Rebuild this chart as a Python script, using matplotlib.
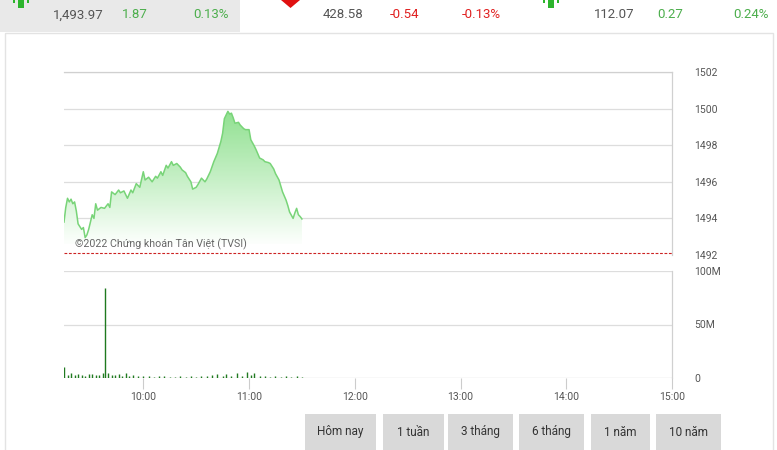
import numpy as np
import matplotlib
matplotlib.use('Agg')
import matplotlib.pyplot as plt
from matplotlib.patches import Rectangle, Polygon
from matplotlib.colors import LinearSegmentedColormap

plt.rcParams['font.family'] = ['Roboto', 'DejaVu Sans']

# Intraday index price (time, points)
price_times = ['09:15', '09:16', '09:17', '09:18', '09:19', '09:20', '09:21', '09:22', '09:23',
               '09:25', '09:26', '09:27', '09:28', '09:29', '09:31', '09:32', '09:33', '09:34',
               '09:36', '09:38', '09:40', '09:41', '09:42', '09:44', '09:46', '09:47', '09:49',
               '09:51', '09:53', '09:54', '09:56', '09:58', '10:00', '10:01', '10:03', '10:05',
               '10:07', '10:08', '10:10', '10:11', '10:13', '10:14', '10:16', '10:17', '10:19',
               '10:21', '10:22', '10:24', '10:25', '10:27', '10:28', '10:30', '10:31', '10:33',
               '10:35', '10:36', '10:38', '10:40', '10:42', '10:44', '10:45', '10:46', '10:48',
               '10:49', '10:50', '10:51', '10:52', '10:54', '10:55', '10:57', '10:58', '11:00',
               '11:01', '11:03', '11:04', '11:06', '11:08', '11:09', '11:11', '11:12', '11:14',
               '11:15', '11:17', '11:19', '11:21', '11:22', '11:23', '11:25', '11:26', '11:27',
               '11:28', '11:29', '11:30']
price_vals = [1493.8, 1494.6, 1495.1, 1494.9, 1495.05, 1494.8, 1494.9, 1494.4, 1493.7,
              1493.4, 1493.5, 1492.95, 1493.1, 1493.4, 1494.2, 1494.0, 1494.8, 1494.45,
              1494.6, 1494.55, 1494.8, 1494.6, 1495.45, 1495.3, 1495.55, 1495.4, 1495.5,
              1495.1, 1495.55, 1495.4, 1495.9, 1495.7, 1496.55, 1496.1, 1496.25, 1496.0,
              1496.3, 1496.2, 1496.55, 1496.35, 1496.9, 1496.75, 1497.1, 1496.9, 1497.0,
              1496.8, 1496.65, 1496.5, 1496.3, 1496.0, 1495.6, 1495.7, 1495.85, 1496.2,
              1496.0, 1496.15, 1496.55, 1497.1, 1497.55, 1498.2, 1498.65, 1499.45, 1499.85,
              1499.7, 1499.75, 1499.5, 1499.2, 1499.25, 1499.1, 1498.9, 1498.85, 1498.85,
              1498.3, 1497.95, 1497.75, 1497.3, 1497.2, 1497.1, 1497.05, 1497.0, 1496.7,
              1496.45, 1496.1, 1495.45, 1495.0, 1494.7, 1494.35, 1494.0, 1494.3, 1494.55,
              1494.2, 1494.1, 1493.97]

# Traded volume (millions of shares)
vol_times = ['09:15', '09:17', '09:19', '09:21', '09:23', '09:25', '09:27', '09:29', '09:31',
             '09:33', '09:35', '09:37', '09:38', '09:40', '09:42', '09:44', '09:46', '09:48',
             '09:50', '09:52', '09:54', '09:57', '10:00', '10:03', '10:06', '10:09', '10:12',
             '10:15', '10:18', '10:21', '10:24', '10:27', '10:30', '10:33', '10:36', '10:39',
             '10:42', '10:45', '10:47', '10:50', '10:53', '10:56', '10:59', '11:01', '11:03',
             '11:06', '11:09', '11:12', '11:15', '11:18', '11:21', '11:24', '11:27', '11:30']
vol_vals = [10.5, 3.0, 4.5, 2.5, 4.0, 3.0, 2.0, 3.5, 4.0,
            2.5, 3.0, 5.0, 84.0, 4.5, 3.0, 2.5, 3.5, 2.0,
            4.5, 2.0, 2.5, 1.5, 2.0, 1.5, 1.2, 2.0, 1.5,
            1.0, 1.2, 1.5, 1.0, 1.5, 1.2, 2.0, 1.5, 2.5,
            3.5, 2.0, 4.0, 1.5, 4.5, 2.0, 6.0, 3.0, 4.5,
            2.0, 1.5, 1.2, 1.5, 1.0, 1.5, 1.2, 2.0, 1.0]

ref_close = 1492.10
price_ticks = [1492, 1494, 1496, 1498, 1500, 1502]
hour_labels = ['10:00', '11:00', '12:00', '13:00', '14:00', '15:00']

header = [
    (78, '1,493.97', '#555555'), (135, '1.87', '#4cae4c'), (211, '0.13%', '#4cae4c'),
    (343, '428.58', '#555555'), (405, '-0.54', '#e02020'), (481, '-0.13%', '#e02020'),
    (614, '112.07', '#555555'), (670, '0.27', '#4cae4c'), (751, '0.24%', '#4cae4c'),
]
buttons = ['Hôm nay', '1 tuần', '3 tháng', '6 tháng', '1 năm', '10 năm']
button_x = [(305, 376), (383, 444), (448, 513), (519, 584), (591, 650), (656, 721)]


def to_min(s):
    h, m = s.split(':')
    return (int(h) - 9) * 60 + int(m) - 15


pt = np.array([to_min(t) for t in price_times], dtype=float)
pv = np.array(price_vals)
vt = np.array([to_min(t) for t in vol_times], dtype=float)
vv = np.array(vol_vals)

W, H = 777, 450
fig = plt.figure(figsize=(W / 100, H / 100), dpi=100)
fig.patch.set_facecolor('white')


def px_box(x0, y0, x1, y1):
    return [x0 / W, 1 - y1 / H, (x1 - x0) / W, (y1 - y0) / H]


# background decorations (pixel coords)
bg = fig.add_axes([0, 0, 1, 1])
bg.set_xlim(0, W)
bg.set_ylim(H, 0)
bg.axis('off')
bg.add_patch(Rectangle((0, 0), 240, 32, color='#e9e9e9', lw=0))
bg.add_patch(Rectangle((5, 33), 768, 430, fill=False, ec='#e3e3e3', lw=1))
# partly visible arrow icons
for x in (18, 548):
    bg.add_patch(Rectangle((x, 0), 6, 8, color='#2db52d', lw=0))
    bg.add_patch(Rectangle((x - 5, 0), 2, 3, color='#2db52d', lw=0))
    bg.add_patch(Rectangle((x + 9, 0), 2, 3, color='#2db52d', lw=0))
bg.add_patch(Polygon([(281, 0), (300, 0), (290.5, 8)], color='#e01010', lw=0))
for x, txt, c in header:
    bg.text(x, 15, txt, color=c, fontsize=9.5, ha='center', va='center')
for (x0, x1), lab in zip(button_x, buttons):
    bg.add_patch(Rectangle((x0, 414), x1 - x0, 40, color='#d9d9d9', lw=0))
    bg.text((x0 + x1) / 2, 432, lab, color='#333333', fontsize=8.5, ha='center', va='center')

grid_c = '#dddddd'
lab_c = '#555555'
x_end = to_min('15:00')
hour_pos = [to_min(h) for h in hour_labels]

# price panel
ax = fig.add_axes(px_box(64, 72, 672, 255))
ax.set_xlim(0, x_end)
ax.set_ylim(1492, 1502)
for y in price_ticks[1:]:
    ax.axhline(y, color=grid_c, lw=0.9, zorder=0)
ax.axhline(ref_close, color='#cc2222', lw=0.8, ls=(0, (2.5, 1.5)), zorder=3)

cmap = LinearSegmentedColormap.from_list('g', ['#fdfffd', '#c4efc4', '#8fe08f'])
grad = np.linspace(0, 1, 256).reshape(-1, 1)
im = ax.imshow(grad, cmap=cmap, aspect='auto', origin='lower',
               extent=[pt[0], pt[-1], 1492.6, 1500.0], zorder=1)
poly = Polygon(np.column_stack([np.r_[pt, pt[::-1]], np.r_[pv, np.full(len(pt), 1492.6)]]),
               closed=True, transform=ax.transData, fc='none', ec='none')
ax.add_patch(poly)
im.set_clip_path(poly)
ax.plot(pt, pv, color='#78d478', lw=1.1, zorder=2)

ax.text(to_min('09:21'), 1492.25, '©2022 Chứng khoán Tân Việt (TVSI)', color='#666666',
        fontsize=7.7, va='bottom', ha='left', zorder=4)

for s in ['left', 'bottom']:
    ax.spines[s].set_visible(False)
for s in ['top', 'right']:
    ax.spines[s].set_color('#d0d0d0')
    ax.spines[s].set_linewidth(0.9)
ax.set_xticks([])
ax.yaxis.tick_right()
ax.set_yticks(price_ticks)
ax.tick_params(axis='y', length=0, pad=16, labelsize=7.5, labelcolor=lab_c)

# volume panel
vx = fig.add_axes(px_box(64, 271, 672, 378))
vx.set_xlim(0, x_end)
vx.set_ylim(0, 100)
for y in (50, 100):
    vx.axhline(y, color=grid_c, lw=0.9, zorder=0)
vx.axhline(0, color='#cccccc', lw=0.9, zorder=0)
vx.vlines(vt, 0, vv, color='#1f7a1f', lw=1.0, zorder=2)
for s in ['left', 'top', 'bottom']:
    vx.spines[s].set_visible(False)
vx.spines['right'].set_color('#d0d0d0')
vx.spines['right'].set_linewidth(0.9)
vx.yaxis.tick_right()
vx.set_yticks([0, 50, 100])
vx.set_yticklabels(['0', '50M', '100M'])
vx.tick_params(axis='y', length=0, pad=16, labelsize=7.5, labelcolor=lab_c)
vx.set_xticks(hour_pos)
vx.set_xticklabels(hour_labels)
vx.tick_params(axis='x', length=8, width=0.8, color='#cccccc', pad=2,
               labelsize=7.5, labelcolor=lab_c)

fig.savefig('out.png', dpi=100)
